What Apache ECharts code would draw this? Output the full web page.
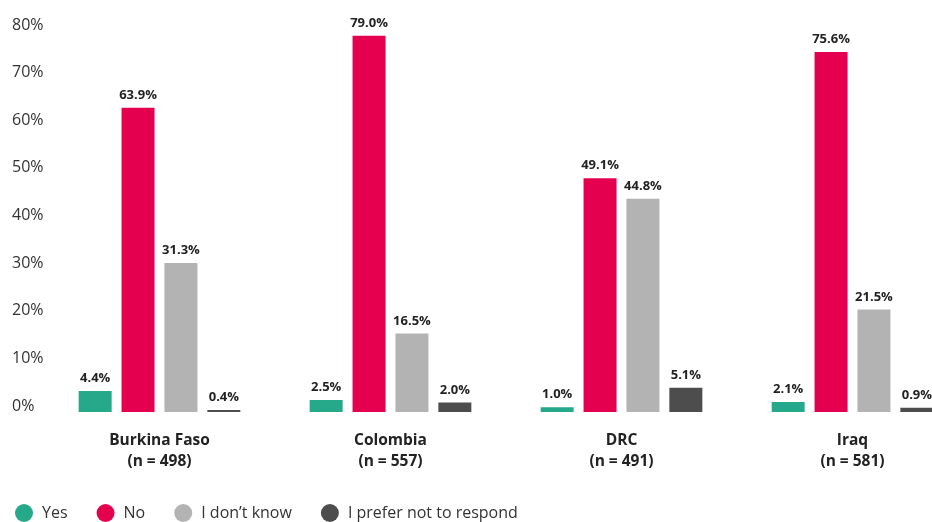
<!DOCTYPE html>
<html>
<head>
<meta charset="utf-8">
<script src="https://cdn.jsdelivr.net/npm/echarts@6/dist/echarts.min.js"></script>
<style>
  html, body { margin: 0; padding: 0; background: #fff; overflow: hidden; }
  #chart { width: 968px; height: 522px; }
</style>
</head>
<body>
<div id="chart"></div>
<script>
var countries = ["Burkina Faso\n(n = 498)", "Colombia\n(n = 557)", "DRC\n(n = 491)", "Iraq\n(n = 581)"];
var yesValues = [4.4, 2.5, 1.0, 2.1];
var noValues = [63.9, 79.0, 49.1, 75.6];
var dontKnowValues = [31.3, 16.5, 44.8, 21.5];
var preferValues = [0.4, 2.0, 5.1, 0.9];

// the plot runs past the right edge of the 932px window, so the div is wider
var chart = echarts.init(document.getElementById("chart"));
window.addEventListener("resize", function () {
    chart.resize();
});

function barSeries(name, data, color) {
    return {
        name: name,
        type: "bar",
        data: data,
        barWidth: 33,
        barGap: "30%",
        itemStyle: { color: color },
        label: {
            show: true,
            position: "top",
            distance: 6,
            fontFamily: "Open Sans",
            fontSize: 13,
            fontWeight: "bold",
            color: "#222",
            formatter: function (p) {
                return p.value.toFixed(1) + "%";
            }
        }
    };
}

chart.setOption({
    animation: false,
    textStyle: { fontFamily: "Open Sans" },
    grid: { left: 44, right: 0, top: 31, bottom: 110 },
    legend: {
        left: 10,
        top: 499,
        icon: "circle",
        itemWidth: 18,
        itemHeight: 18,
        itemGap: 29,
        textStyle: {
            fontFamily: "Open Sans",
            fontSize: 16,
            color: "#333",
            padding: [0, 0, 0, 4]
        }
    },
    xAxis: {
        type: "category",
        data: countries,
        axisLine: { show: false },
        axisTick: { show: false },
        axisLabel: {
            margin: 18,
            fontFamily: "Open Sans",
            fontSize: 15.5,
            fontWeight: "bold",
            lineHeight: 21,
            color: "#222"
        }
    },
    yAxis: {
        type: "value",
        min: 0,
        max: 80,
        interval: 10,
        splitLine: { show: false },
        axisLine: { show: false },
        axisTick: { show: false },
        axisLabel: {
            align: "left",
            verticalAlign: "bottom",
            lineHeight: 12,
            margin: 32,
            fontFamily: "Open Sans",
            fontSize: 16,
            color: "#333",
            formatter: "{value}%"
        }
    },
    series: [
        barSeries("Yes", yesValues, "#26a98b"),
        barSeries("No", noValues, "#e4004f"),
        barSeries("I don\u2019t know", dontKnowValues, "#b3b3b3"),
        barSeries("I prefer not to respond", preferValues, "#4d4d4d")
    ]
});
</script>
</body>
</html>
